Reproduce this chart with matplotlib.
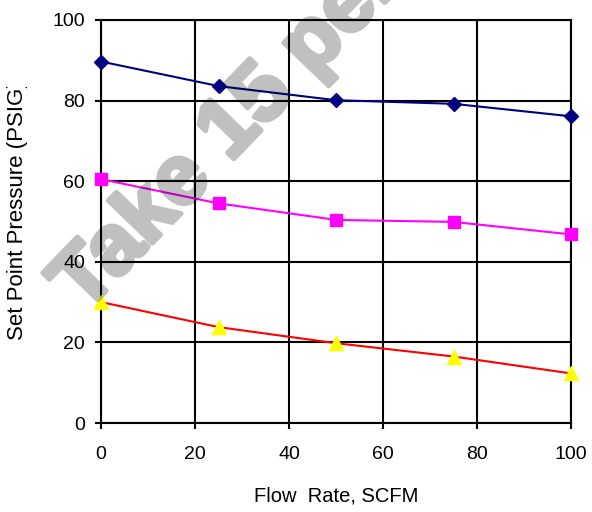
import matplotlib
matplotlib.use("Agg")
import numpy as np
import matplotlib.pyplot as plt
import matplotlib.patheffects as pe
from matplotlib.transforms import Bbox, IdentityTransform

flow = [0, 25, 50, 75, 100]
series_blue = [89.7, 83.6, 80.1, 79.2, 76.1]
series_magenta = [60.5, 54.5, 50.4, 49.9, 46.8]
series_yellow = [30.0, 23.8, 19.8, 16.5, 12.3]
xticks = [0, 20, 40, 60, 80, 100]
yticks = [0, 20, 40, 60, 80, 100]

plt.rcParams['font.family'] = ['Liberation Sans', 'DejaVu Sans']

W, H = 592, 512
fig = plt.figure(figsize=(W / 100, H / 100), dpi=100)
ax = fig.add_axes([101 / W, 1 - 423 / H, 470 / W, 403 / H])

ax.plot(flow, series_blue, color='#000080', lw=1.5, marker='D', ms=7.5,
        mfc='#000080', mec='#000080', zorder=5, clip_on=False)
ax.plot(flow, series_magenta, color='#ff00ff', lw=1.5, marker='s', ms=8,
        mfc='#ff00ff', mec='#ff00ff', zorder=5, clip_on=False)
ax.plot(flow, series_yellow, color='#ff0000', lw=1.5, marker='^', ms=9.5,
        mfc='#ffff00', mec='#ffff00', zorder=5, clip_on=False)

ax.set_xlim(0, 100)
ax.set_ylim(0, 100)
ax.set_xticks(xticks)
ax.set_yticks(yticks)
ax.grid(True, color='black', lw=1.5)
ax.set_axisbelow(True)
for s in ax.spines.values():
    s.set_linewidth(1.5)
    s.set_color('black')
ax.tick_params(axis='both', length=4.5, width=1.5, labelsize=14, color='black')
ax.tick_params(axis='y', pad=7)
ax.tick_params(axis='x', pad=12)

ax.set_xlabel('Flow  Rate, SCFM', fontsize=14.5, labelpad=17)

# y label: its top end is cut off, as in the reference
ylab = fig.text(18, H - 340, 'Set Point Pressure (PSIG)', transform=IdentityTransform(),
                fontsize=16, rotation=90, rotation_mode='anchor',
                ha='left', va='center')
ylab.set_clip_box(Bbox.from_extents(0, 0, W, H - 87))
ylab.set_clip_on(True)


def translucent(img, dpi):
    out = img.copy()
    out[..., :3] = 0.0
    out[..., 3] = img[..., 3] * 0.25
    return out, 0, 0


wm = fig.text(84, H - 314, 'Take 15 percent off', transform=IdentityTransform(),
              fontsize=61, fontweight='bold', color='black',
              rotation=46, rotation_mode='anchor', ha='left', va='baseline',
              zorder=10,
              path_effects=[pe.Stroke(linewidth=3.5, foreground='black'), pe.Normal()])
wm.set_agg_filter(translucent)

fig.savefig('out.png', dpi=100)
